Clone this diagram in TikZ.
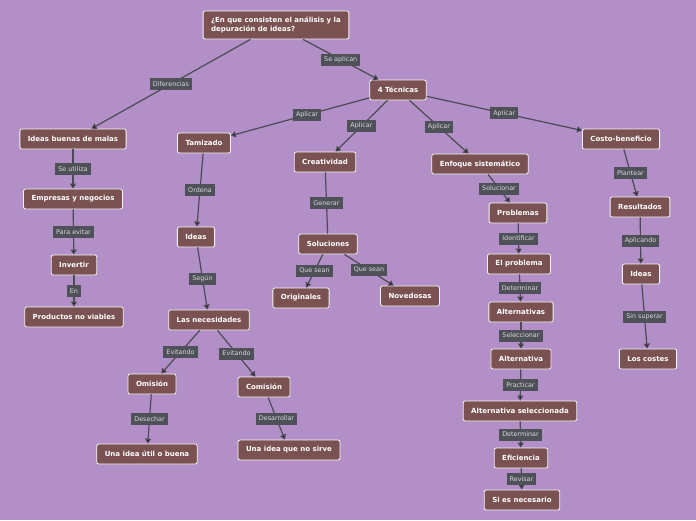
\documentclass[tikz,border=0pt]{standalone}
\usepackage{fontspec}
\setmainfont{DejaVu Sans}
\usetikzlibrary{arrows.meta}
\definecolor{lila}{HTML}{B28FC6}
\definecolor{cafe}{HTML}{7B5252}
\definecolor{gris}{HTML}{4E5158}
\definecolor{linea}{HTML}{4B4A55}
\tikzset{
  tema/.style={draw=white!92!gray, line width=0.8pt, fill=cafe, rounded corners=2pt,
    text=white, font=\fontsize{7}{9.5}\selectfont\bfseries,
    minimum height=20pt, inner xsep=8pt, inner ysep=2pt},
  etiq/.style={fill=gris, text=white!85!black, font=\fontsize{6.4}{7.5}\selectfont,
    inner xsep=3pt, inner ysep=2pt, minimum height=12pt, pos=.5},
  enlace/.style={draw=linea, line width=1.2pt, -{Triangle[length=5pt,width=6pt]}},
}
\begin{document}
\begin{tikzpicture}[x=1pt, y=-1pt]
      \fill[lila] (0, 0) rectangle (696, 520);
      % pregunta central y tecnicas
      \node (pregunta) [tema, align=left, minimum height=28pt] at (276, 25)
            {¿En que consisten el análisis y la\\depuración de ideas?};
      \node (tecnicas) [tema] at (398, 90) {4 Técnicas};
      % rama izquierda
      \node (buenas) [tema] at (73, 139) {Ideas buenas de malas};
      \node (empresas) [tema] at (73, 199) {Empresas y negocios};
      \node (invertir) [tema] at (74, 265) {Invertir};
      \node (productos) [tema] at (74, 317) {Productos no viables};
      % tamizado
      \node (tamizado) [tema] at (204, 143) {Tamizado};
      \node (ideasA) [tema] at (196, 237) {Ideas};
      \node (necesidades) [tema] at (209, 320) {Las necesidades};
      \node (omision) [tema] at (152, 384) {Omisión};
      \node (comision) [tema] at (264, 387) {Comisión};
      \node (util) [tema] at (147, 454) {Una idea útil o buena};
      \node (nosirve) [tema] at (289, 450) {Una idea que no sirve};
      % creatividad
      \node (creatividad) [tema] at (325, 162) {Creatividad};
      \node (soluciones) [tema] at (328, 244) {Soluciones};
      \node (originales) [tema] at (301, 298) {Originales};
      \node (novedosas) [tema] at (410, 296) {Novedosas};
      % enfoque sistematico
      \node (enfoque) [tema] at (480, 164) {Enfoque sistemático};
      \node (problemas) [tema] at (518, 213) {Problemas};
      \node (problema) [tema] at (519, 264) {El problema};
      \node (alternativas) [tema] at (521, 312) {Alternativas};
      \node (alternativa) [tema] at (521, 359) {Alternativa};
      \node (seleccionada) [tema] at (520, 411) {Alternativa seleccionada};
      \node (eficiencia) [tema] at (521, 458) {Eficiencia};
      \node (necesario) [tema] at (522, 500) {Si es necesario};
      % costo-beneficio
      \node (costo) [tema] at (621, 139) {Costo-beneficio};
      \node (resultados) [tema] at (640, 207) {Resultados};
      \node (ideasB) [tema] at (641, 274) {Ideas};
      \node (costes) [tema] at (648, 359) {Los costes};
      % conexiones
      \draw[enlace] (pregunta) edge node [etiq] {Diferencias} (buenas)
                    (pregunta) edge node [etiq] {Se aplican} (tecnicas)
                    (buenas) edge node [etiq] {Se utiliza} (empresas)
                    (empresas) edge node [etiq] {Para evitar} (invertir)
                    (invertir) edge node [etiq] {En} (productos)
                    (tecnicas) edge node [etiq, pos=.45] {Aplicar} (tamizado)
                    (tecnicas) edge node [etiq] {Aplicar} (creatividad)
                    (tecnicas) edge node [etiq] {Aplicar} (enfoque)
                    (tecnicas) edge node [etiq] {Aplicar} (costo)
                    (tamizado) edge node [etiq] {Ordena} (ideasA)
                    (ideasA) edge node [etiq] {Según} (necesidades)
                    (necesidades) edge node [etiq] {Evitando} (omision)
                    (necesidades) edge node [etiq] {Evitando} (comision)
                    (omision) edge node [etiq] {Desechar} (util)
                    (comision) edge node [etiq] {Desarrollar} (nosirve)
                    (creatividad) edge [-] node [etiq] {Generar} (soluciones)
                    (soluciones) edge node [etiq] {Que sean} (originales)
                    (soluciones) edge node [etiq] {Que sean} (novedosas)
                    (enfoque) edge node [etiq] {Solucionar} (problemas)
                    (problemas) edge node [etiq] {Identificar} (problema)
                    (problema) edge node [etiq] {Determinar} (alternativas)
                    (alternativas) edge node [etiq] {Seleccionar} (alternativa)
                    (alternativa) edge node [etiq] {Practicar} (seleccionada)
                    (seleccionada) edge node [etiq] {Determinar} (eficiencia)
                    (eficiencia) edge node [etiq] {Revisar} (necesario)
                    (costo) edge node [etiq] {Plantear} (resultados)
                    (resultados) edge node [etiq] {Aplicando} (ideasB)
                    (ideasB) edge node [etiq] {Sin superar} (costes);
\end{tikzpicture}
\end{document}
